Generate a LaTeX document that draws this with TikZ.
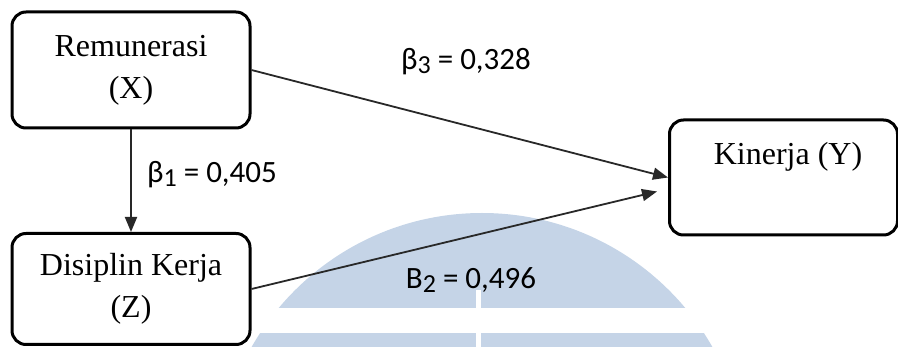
\documentclass[tikz,border=0pt]{standalone}
\usepackage{fontspec}
\setmainfont{Liberation Serif}
\newfontfamily\lblfont{Carlito}
\usetikzlibrary{arrows.meta,calc}
\definecolor{wmblue}{RGB}{197,212,231}
\definecolor{linegray}{RGB}{40,40,40}
\tikzset{
  varbox/.style={draw=black, line width=3pt, rounded corners=14pt, inner sep=0pt, align=center,
    font=\fontsize{32}{42}\selectfont},
  path/.style={draw=linegray, line width=1.8pt, -{Triangle[length=15pt,width=12pt]}},
  coef/.style={font=\lblfont\fontsize{31}{36}\selectfont, inner sep=0pt}
}
\newcommand{\subd}[1]{\raisebox{-0.12em}{\fontsize{26}{30}\selectfont #1}}
\begin{document}
\begin{tikzpicture}[x=1pt,y=-1pt]
\useasboundingbox (0,0) rectangle (898,347);
% watermark
\fill[wmblue] (482,478) circle (265);
\fill[white] (0,308) rectangle (898,333);
\fill[white] (476,290) rectangle (481,347);
% boxes
\node[varbox, minimum width=238pt, minimum height=116pt] (X) at (131,70) {Remunerasi\\(X)};
\node[varbox, minimum width=238pt, minimum height=111pt] (Z) at (131,289) {Disiplin Kerja\\(Z)};
\node[varbox, minimum width=228pt, minimum height=115pt, anchor=west] (Y) at (668,177.5) {};
\node[font=\fontsize{32}{38}\selectfont, inner sep=0pt] (Ylbl) at (788,157) {Kinerja (Y)};
\coordinate (yin) at ($(Y.west)+(-11,14)$);
% arrows
\draw[path] (X.south) -- (Z.north);
\draw[path] (X.east) -- (Y.west);
\draw[path] (Z.east) -- (yin);
% labels
\node[coef] (b3) at (466,62) {β\subd{3} = 0,328};
\node[coef] (b1) at (212,175) {β\subd{1} = 0,405};
\node[coef] (b2) at (471,280) {B\subd{2} = 0,496};
\end{tikzpicture}
\end{document}
